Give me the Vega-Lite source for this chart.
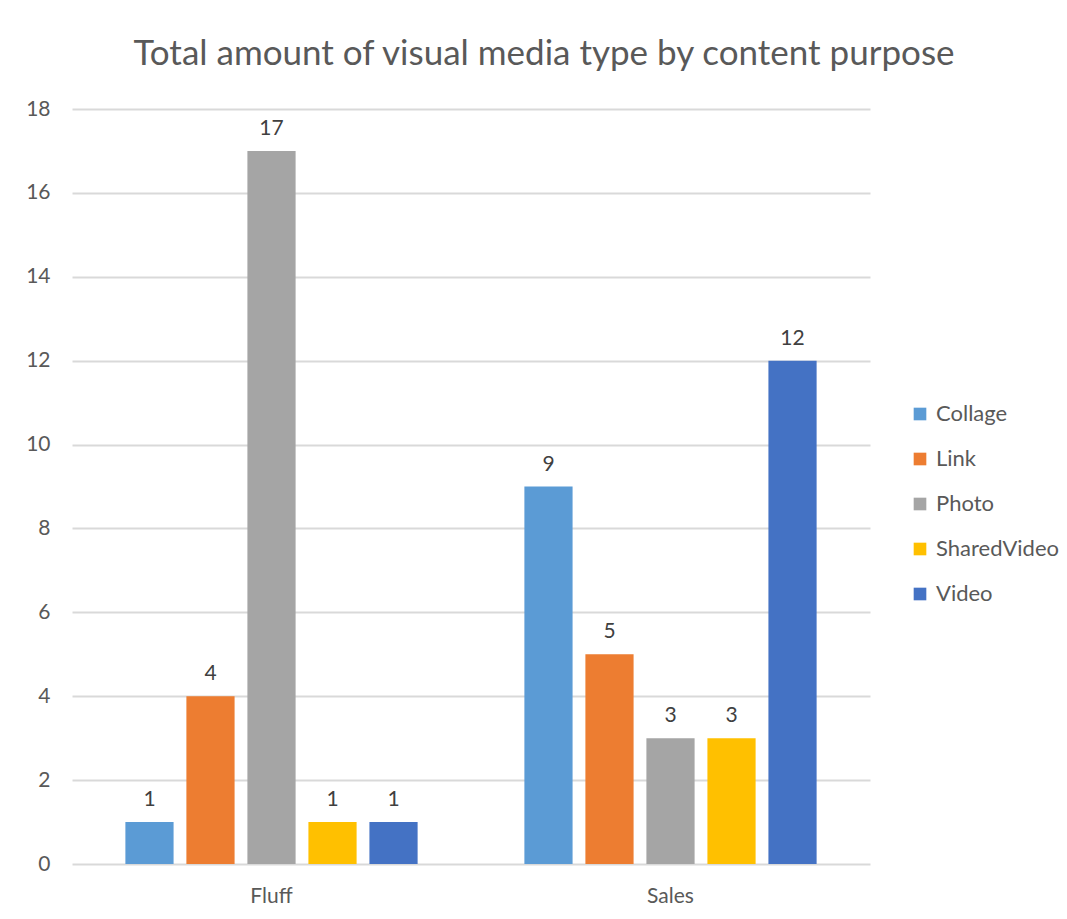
{
  "$schema": "https://vega.github.io/schema/vega-lite/v6.json",
  "width": 798,
  "height": 755,
  "autosize": "none",
  "padding": {"left": 72, "top": 109, "right": 197, "bottom": 55},
  "background": "white",
  "title": {
    "text": "Total amount of visual media type by content purpose",
    "font": "Lato",
    "fontSize": 35,
    "fontWeight": "normal",
    "color": "#595959",
    "anchor": "middle",
    "dx": 73,
    "offset": 26
  },
  "data": {
    "values": [
      {"purpose": "Fluff", "type": "Collage", "count": 1},
      {"purpose": "Fluff", "type": "Link", "count": 4},
      {"purpose": "Fluff", "type": "Photo", "count": 17},
      {"purpose": "Fluff", "type": "SharedVideo", "count": 1},
      {"purpose": "Fluff", "type": "Video", "count": 1},
      {"purpose": "Sales", "type": "Collage", "count": 9},
      {"purpose": "Sales", "type": "Link", "count": 5},
      {"purpose": "Sales", "type": "Photo", "count": 3},
      {"purpose": "Sales", "type": "SharedVideo", "count": 3},
      {"purpose": "Sales", "type": "Video", "count": 12}
    ]
  },
  "encoding": {
    "x": {
      "field": "purpose",
      "type": "nominal",
      "scale": {"paddingInner": 0, "paddingOuter": 0},
      "axis": {
        "title": null,
        "labelAngle": 0,
        "labelFont": "Lato",
        "labelFontSize": 21,
        "labelColor": "#595959",
        "labelPadding": 21,
        "ticks": false,
        "domain": false,
        "grid": false
      }
    },
    "xOffset": {
      "field": "type",
      "type": "nominal",
      "scale": {"paddingInner": 0.21, "paddingOuter": 0.875}
    },
    "y": {
      "field": "count",
      "type": "quantitative",
      "scale": {"domain": [0, 18], "nice": false},
      "axis": {
        "title": null,
        "values": [0, 2, 4, 6, 8, 10, 12, 14, 16, 18],
        "labelFont": "Lato",
        "labelFontSize": 21,
        "labelColor": "#595959",
        "labelPadding": 22,
        "ticks": false,
        "domain": false,
        "grid": true,
        "gridColor": "#d9d9d9",
        "gridWidth": 2
      }
    }
  },
  "layer": [
    {
      "mark": {"type": "bar"},
      "encoding": {
        "color": {
          "field": "type",
          "type": "nominal",
          "scale": {
            "domain": ["Collage", "Link", "Photo", "SharedVideo", "Video"],
            "range": ["#5B9BD5", "#ED7D31", "#A5A5A5", "#FFC000", "#4472C4"]
          },
          "legend": {
            "title": null,
            "orient": "none",
            "legendX": 837,
            "legendY": 294,
            "symbolType": "square",
            "symbolSize": 160,
            "symbolStrokeWidth": 0,
            "labelFont": "Lato",
            "labelFontSize": 22,
            "labelColor": "#595959",
            "labelOffset": 5,
            "rowPadding": 23
          }
        }
      }
    },
    {
      "mark": {
        "type": "text",
        "baseline": "bottom",
        "dy": -12,
        "font": "Lato",
        "fontSize": 21,
        "color": "#404040"
      },
      "encoding": {
        "text": {"field": "count", "type": "quantitative"}
      }
    }
  ],
  "config": {
    "view": {"stroke": null}
  }
}
